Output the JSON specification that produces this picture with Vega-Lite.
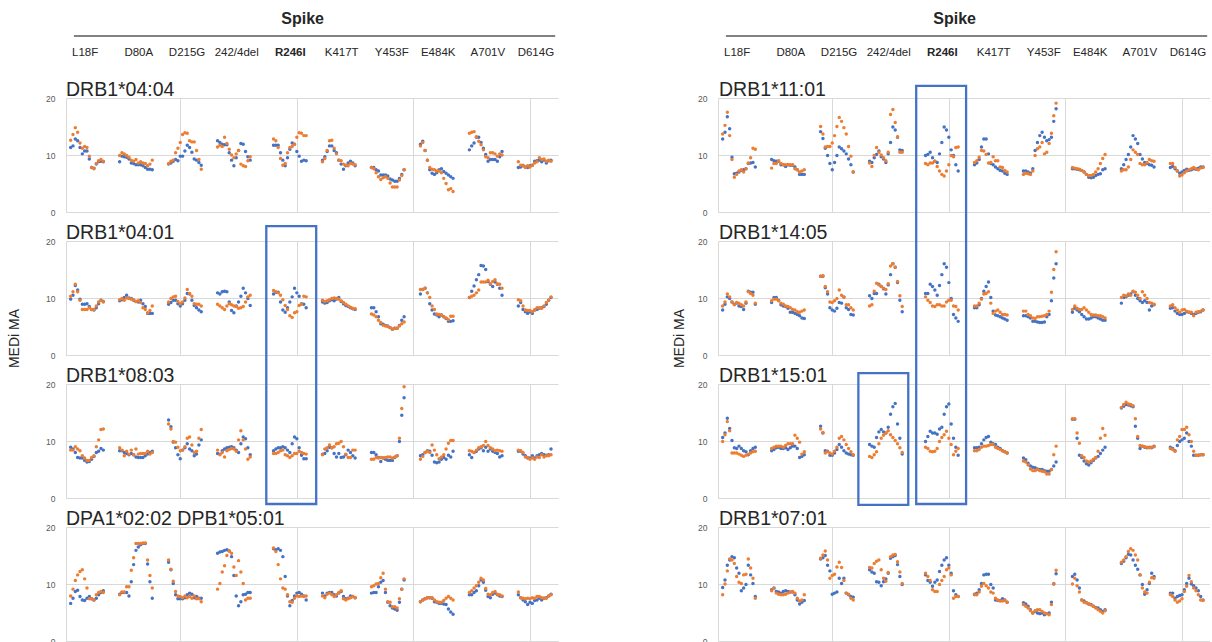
{
"$schema":"https://vega.github.io/schema/vega-lite/v6.json",
"background":"white",
"padding":{"left":7,"top":0,"right":0,"bottom":0},
"config":{"view":{"stroke":null},"font":"Liberation Sans",
"axisX":{"labels":false,"ticks":false,"tickSize":0,"grid":true,"gridColor":"#d9d9d9","domainColor":"#d9d9d9"},
"axisY":{"domain":false,"ticks":false,"tickSize":0,"labelPadding":11,"labelFontSize":8.5,"labelColor":"#595959","grid":true,"gridColor":"#d9d9d9"}},
"datasets":{
"L1":[{"x":3,"s1":11.3,"s2":12.6},{"x":4,"s1":11.6,"s2":13.6},{"x":5,"s1":12.8,"s2":14.8},{"x":6,"s1":12.5,"s2":14},{"x":7,"s1":11.3,"s2":12.1},{"x":8,"s1":10.2,"s2":11.2},{"x":9,"s1":10.7,"s2":11.5},{"x":10,"s1":10.7,"s2":11.3},{"x":11,"s1":9.3,"s2":9.8},{"x":12,"s1":7.8,"s2":7.8},{"x":13,"s1":7.7,"s2":7.6},{"x":14,"s1":8.4,"s2":8.5},{"x":15,"s1":8.8,"s2":9},{"x":16,"s1":8.9,"s2":9.2},{"x":17,"s1":8.8,"s2":8.9},
{"x":24,"s1":8.8,"s2":9.9},{"x":25,"s1":9.8,"s2":10.4},{"x":26,"s1":9.7,"s2":10.2},{"x":27,"s1":9.6,"s2":9.9},{"x":28,"s1":9.3,"s2":9.6},{"x":29,"s1":8.6,"s2":9.1},{"x":30,"s1":8.5,"s2":8.9},{"x":31,"s1":8.3,"s2":9.2},{"x":32,"s1":8.3,"s2":8.6},{"x":33,"s1":8.3,"s2":8.8},{"x":34,"s1":8.1,"s2":8.6},{"x":35,"s1":7.8,"s2":8.5},{"x":36,"s1":7.5,"s2":8.1},{"x":37,"s1":7.5,"s2":8.4},{"x":38,"s1":7.4,"s2":9.1},
{"x":45,"s1":8.4,"s2":8.5},{"x":46,"s1":8.6,"s2":8.9},{"x":47,"s1":8.9,"s2":9.1},{"x":48,"s1":9.2,"s2":10.4},{"x":49,"s1":9,"s2":11.2},{"x":50,"s1":9.8,"s2":12.2},{"x":51,"s1":9.8,"s2":13.6},{"x":52,"s1":10.7,"s2":13.9},{"x":53,"s1":11.7,"s2":13.8},{"x":54,"s1":11.3,"s2":12.5},{"x":55,"s1":10.5,"s2":12.3},{"x":56,"s1":9.3,"s2":12.3},{"x":57,"s1":9.1,"s2":10.8},{"x":58,"s1":8.7,"s2":9.2},{"x":59,"s1":8.2,"s2":7.5},
{"x":66,"s1":12.5,"s2":11.4},{"x":67,"s1":12.2,"s2":11.7},{"x":68,"s1":11.9,"s2":11.5},{"x":69,"s1":11.8,"s2":13.1},{"x":70,"s1":11.8,"s2":12},{"x":71,"s1":10.4,"s2":11},{"x":72,"s1":9.1,"s2":10},{"x":73,"s1":8.1,"s2":9.5},{"x":74,"s1":9.5,"s2":10.2},{"x":75,"s1":10.8,"s2":10.8},{"x":76,"s1":12,"s2":8.4},{"x":77,"s1":11.9,"s2":8.1},{"x":78,"s1":10.6,"s2":8},{"x":79,"s1":9.7,"s2":9},{"x":80,"s1":9.1,"s2":9.7},
{"x":90,"s1":11.7,"s2":12.8},{"x":91,"s1":11.7,"s2":12.5},{"x":92,"s1":11.7,"s2":11.3},{"x":93,"s1":10.4,"s2":9.4},{"x":94,"s1":9.1,"s2":8.2},{"x":95,"s1":8.1,"s2":8.5},{"x":96,"s1":9.5,"s2":10.4},{"x":97,"s1":11,"s2":11.3},{"x":98,"s1":12.1,"s2":11.5},{"x":99,"s1":11.9,"s2":11.9},{"x":100,"s1":10.6,"s2":13.1},{"x":101,"s1":9.8,"s2":13.9},{"x":102,"s1":8.9,"s2":13.8},{"x":103,"s1":9.1,"s2":13.4},{"x":104,"s1":9,"s2":13.4},
{"x":111,"s1":9.1,"s2":8.8},{"x":112,"s1":9.7,"s2":9.4},{"x":113,"s1":10.6,"s2":10.8},{"x":114,"s1":11.6,"s2":12.5},{"x":115,"s1":11.6,"s2":12.6},{"x":116,"s1":10.8,"s2":11.2},{"x":117,"s1":10.4,"s2":10.2},{"x":118,"s1":9.1,"s2":9.1},{"x":119,"s1":8.4,"s2":9},{"x":120,"s1":7.5,"s2":8.4},{"x":121,"s1":8.1,"s2":8.2},{"x":122,"s1":8.6,"s2":8.1},{"x":123,"s1":8.9,"s2":8.5},{"x":124,"s1":8.6,"s2":8.4},{"x":125,"s1":8.1,"s2":8.3},
{"x":132,"s1":7.8,"s2":7.8},{"x":133,"s1":7.8,"s2":7.6},{"x":134,"s1":7.4,"s2":6.9},{"x":135,"s1":7.2,"s2":6.2},{"x":136,"s1":6.5,"s2":5.7},{"x":137,"s1":6.5,"s2":6},{"x":138,"s1":6.5,"s2":6.2},{"x":139,"s1":6.3,"s2":5.9},{"x":140,"s1":5.8,"s2":5.1},{"x":141,"s1":5.6,"s2":4.4},{"x":142,"s1":5.4,"s2":4.4},{"x":143,"s1":5.4,"s2":4.4},{"x":144,"s1":5.9,"s2":5.6},{"x":145,"s1":6.6,"s2":6.4},{"x":146,"s1":7.4,"s2":7.4},
{"x":153,"s1":11.9,"s2":11.6},{"x":154,"s1":12.4,"s2":12.2},{"x":155,"s1":10.8,"s2":10.8},{"x":156,"s1":9.1,"s2":9.1},{"x":157,"s1":7.4,"s2":7.8},{"x":158,"s1":6.8,"s2":7.5},{"x":159,"s1":6.6,"s2":7.4},{"x":160,"s1":6.9,"s2":7.2},{"x":161,"s1":7.4,"s2":7.2},{"x":162,"s1":7.6,"s2":6.9},{"x":163,"s1":7.1,"s2":5.9},{"x":164,"s1":6.8,"s2":5},{"x":165,"s1":6.5,"s2":3.9},{"x":166,"s1":6.2,"s2":4.1},{"x":167,"s1":5.9,"s2":3.6},
{"x":174,"s1":10.9,"s2":13.8},{"x":175,"s1":11.6,"s2":14},{"x":176,"s1":12.1,"s2":14.1},{"x":177,"s1":13.1,"s2":13.2},{"x":178,"s1":13.1,"s2":12.4},{"x":179,"s1":12.2,"s2":11.8},{"x":180,"s1":11.2,"s2":10.9},{"x":181,"s1":10.1,"s2":9.7},{"x":182,"s1":8.9,"s2":9.5},{"x":183,"s1":9.2,"s2":10.4},{"x":184,"s1":9.2,"s2":10.4},{"x":185,"s1":9.2,"s2":10.2},{"x":186,"s1":8.9,"s2":9.8},{"x":187,"s1":9.7,"s2":10.2},{"x":188,"s1":10.6,"s2":10},
{"x":195,"s1":7.8,"s2":8.8},{"x":196,"s1":7.9,"s2":8.2},{"x":197,"s1":8.1,"s2":8.2},{"x":198,"s1":7.9,"s2":7.8},{"x":199,"s1":7.8,"s2":8.1},{"x":200,"s1":8.1,"s2":7.9},{"x":201,"s1":8.2,"s2":8.2},{"x":202,"s1":8.9,"s2":8.6},{"x":203,"s1":9,"s2":8.8},{"x":204,"s1":9.1,"s2":9.5},{"x":205,"s1":8.8,"s2":9.2},{"x":206,"s1":9.1,"s2":9.3},{"x":207,"s1":8.6,"s2":8.9},{"x":208,"s1":9,"s2":9.1},{"x":209,"s1":9.1,"s2":8.9}],
"L2":[{"x":3,"s1":9.8,"s2":10.3},{"x":4,"s1":10.5,"s2":11.1},{"x":5,"s1":12.2,"s2":12.4},{"x":6,"s1":11.4,"s2":11.1},{"x":7,"s1":9.8,"s2":9.6},{"x":8,"s1":8.9,"s2":8},{"x":9,"s1":8.9,"s2":8},{"x":10,"s1":9,"s2":8},{"x":11,"s1":8.5,"s2":8.3},{"x":12,"s1":8,"s2":8},{"x":13,"s1":7.9,"s2":8},{"x":14,"s1":8.3,"s2":8.6},{"x":15,"s1":9,"s2":9.3},{"x":16,"s1":9.6,"s2":9.6},{"x":17,"s1":9.4,"s2":9.3},
{"x":24,"s1":9.5,"s2":9.7},{"x":25,"s1":9.7,"s2":9.9},{"x":26,"s1":10.1,"s2":9.6},{"x":27,"s1":10.5,"s2":10},{"x":28,"s1":10,"s2":9.9},{"x":29,"s1":9.9,"s2":9.8},{"x":30,"s1":9.6,"s2":9.7},{"x":31,"s1":9.4,"s2":9.4},{"x":32,"s1":9.3,"s2":9.5},{"x":33,"s1":9.6,"s2":9.2},{"x":34,"s1":9,"s2":8.3},{"x":35,"s1":8.5,"s2":8},{"x":36,"s1":7.3,"s2":7.4},{"x":37,"s1":7.3,"s2":7.8},{"x":38,"s1":7.3,"s2":8.6},
{"x":45,"s1":8.9,"s2":9.3},{"x":46,"s1":9.2,"s2":9.9},{"x":47,"s1":9.6,"s2":10.2},{"x":48,"s1":9.6,"s2":10.3},{"x":49,"s1":9,"s2":9.4},{"x":50,"s1":8.6,"s2":9},{"x":51,"s1":9,"s2":9.3},{"x":52,"s1":9.6,"s2":10},{"x":53,"s1":10.8,"s2":11.5},{"x":54,"s1":10.7,"s2":10.8},{"x":55,"s1":9.6,"s2":10.3},{"x":56,"s1":8.7,"s2":9},{"x":57,"s1":8.3,"s2":8.9},{"x":58,"s1":7.9,"s2":8.9},{"x":59,"s1":7.6,"s2":8.6},
{"x":66,"s1":10.9,"s2":8.9},{"x":67,"s1":10.7,"s2":8.6},{"x":68,"s1":11.1,"s2":8.3},{"x":69,"s1":11.2,"s2":8},{"x":70,"s1":11.1,"s2":8.6},{"x":71,"s1":9.3,"s2":9},{"x":72,"s1":7.8,"s2":8.8},{"x":73,"s1":7.4,"s2":8.6},{"x":74,"s1":8.6,"s2":8.5},{"x":75,"s1":9.3,"s2":8.2},{"x":76,"s1":10.3,"s2":8.3},{"x":77,"s1":11.7,"s2":8.5},{"x":78,"s1":10.9,"s2":9.3},{"x":79,"s1":9.9,"s2":10.2},{"x":80,"s1":8.7,"s2":10.5},
{"x":90,"s1":10.7,"s2":11.3},{"x":91,"s1":11,"s2":11.1},{"x":92,"s1":11,"s2":10.9},{"x":93,"s1":9.3,"s2":10.5},{"x":94,"s1":7.9,"s2":9.7},{"x":95,"s1":7.5,"s2":8.7},{"x":96,"s1":8.3,"s2":8},{"x":97,"s1":9.3,"s2":6.9},{"x":98,"s1":10.2,"s2":6.6},{"x":99,"s1":11.7,"s2":7.4},{"x":100,"s1":10.9,"s2":7.6},{"x":101,"s1":10.3,"s2":8.7},{"x":102,"s1":9,"s2":8.9},{"x":103,"s1":8.9,"s2":10.3},{"x":104,"s1":8.3,"s2":10.2},
{"x":111,"s1":9.3,"s2":9.6},{"x":112,"s1":9.1,"s2":9.4},{"x":113,"s1":9.2,"s2":9.5},{"x":114,"s1":9.5,"s2":9.7},{"x":115,"s1":9.7,"s2":9.9},{"x":116,"s1":9.5,"s2":10},{"x":117,"s1":9.8,"s2":9.9},{"x":118,"s1":10.1,"s2":9.8},{"x":119,"s1":9.4,"s2":9.5},{"x":120,"s1":9,"s2":9.2},{"x":121,"s1":8.7,"s2":8.9},{"x":122,"s1":8.5,"s2":8.6},{"x":123,"s1":8.3,"s2":8.4},{"x":124,"s1":8.1,"s2":8.2},{"x":125,"s1":8,"s2":8.1},
{"x":132,"s1":8.3,"s2":7.2},{"x":133,"s1":8.3,"s2":7},{"x":134,"s1":7.6,"s2":6.7},{"x":135,"s1":6.7,"s2":6.1},{"x":136,"s1":5.5,"s2":5.7},{"x":137,"s1":5.4,"s2":5.2},{"x":138,"s1":5.2,"s2":5.1},{"x":139,"s1":5.1,"s2":5},{"x":140,"s1":4.8,"s2":4.8},{"x":141,"s1":4.5,"s2":4.5},{"x":142,"s1":4.7,"s2":4.7},{"x":143,"s1":4.7,"s2":4.7},{"x":144,"s1":5.2,"s2":5.1},{"x":145,"s1":6.1,"s2":5.5},{"x":146,"s1":6.7,"s2":5.8},
{"x":153,"s1":10.7,"s2":11.5},{"x":154,"s1":11.5,"s2":11.5},{"x":155,"s1":11.7,"s2":11.7},{"x":156,"s1":10.9,"s2":10.9},{"x":157,"s1":9,"s2":10.1},{"x":158,"s1":7.9,"s2":8.6},{"x":159,"s1":7.2,"s2":8},{"x":160,"s1":7,"s2":7.2},{"x":161,"s1":6.7,"s2":7.1},{"x":162,"s1":7,"s2":7},{"x":163,"s1":6.7,"s2":6.7},{"x":164,"s1":6.4,"s2":6.5},{"x":165,"s1":5.9,"s2":6.2},{"x":166,"s1":5.9,"s2":6.8},{"x":167,"s1":6,"s2":6.8},
{"x":174,"s1":10.1,"s2":10.1},{"x":175,"s1":11.2,"s2":10.3},{"x":176,"s1":12.1,"s2":10.5},{"x":177,"s1":13.2,"s2":10.9},{"x":178,"s1":14.1,"s2":11.4},{"x":179,"s1":15.7,"s2":12.8},{"x":180,"s1":15.6,"s2":12.8},{"x":181,"s1":15,"s2":12.8},{"x":182,"s1":12.9,"s2":13.1},{"x":183,"s1":12.4,"s2":12.5},{"x":184,"s1":12,"s2":12.9},{"x":185,"s1":12.8,"s2":13.2},{"x":186,"s1":12.4,"s2":12.5},{"x":187,"s1":11.7,"s2":12.4},{"x":188,"s1":10.5,"s2":11.7},
{"x":195,"s1":8.6,"s2":9.7},{"x":196,"s1":9.2,"s2":9.5},{"x":197,"s1":8,"s2":8.6},{"x":198,"s1":7.6,"s2":7.9},{"x":199,"s1":7.3,"s2":7.8},{"x":200,"s1":7.6,"s2":7.8},{"x":201,"s1":7.3,"s2":7.6},{"x":202,"s1":7.9,"s2":7.9},{"x":203,"s1":8,"s2":8.3},{"x":204,"s1":8.2,"s2":8.3},{"x":205,"s1":8.3,"s2":8.2},{"x":206,"s1":8.5,"s2":8.6},{"x":207,"s1":8.9,"s2":9.2},{"x":208,"s1":9.6,"s2":9.6},{"x":209,"s1":10.1,"s2":10.2}],
"L3":[{"x":3,"s1":8.9,"s2":8.4},{"x":4,"s1":8.6,"s2":8.4},{"x":5,"s1":8,"s2":9},{"x":6,"s1":7.1,"s2":8.6},{"x":7,"s1":7,"s2":8.3},{"x":8,"s1":7,"s2":7.4},{"x":9,"s1":6.6,"s2":7},{"x":10,"s1":6.3,"s2":6.6},{"x":11,"s1":6.4,"s2":6.6},{"x":12,"s1":6.8,"s2":7.1},{"x":13,"s1":7.3,"s2":7.4},{"x":14,"s1":8,"s2":9},{"x":15,"s1":8.2,"s2":10.2},{"x":16,"s1":8.7,"s2":12},{"x":17,"s1":8.4,"s2":12.1},
{"x":24,"s1":8.3,"s2":8.8},{"x":25,"s1":8.3,"s2":8.4},{"x":26,"s1":8,"s2":7.4},{"x":27,"s1":7.8,"s2":8.2},{"x":28,"s1":7.6,"s2":7.7},{"x":29,"s1":7.8,"s2":8.4},{"x":30,"s1":7.6,"s2":7.6},{"x":31,"s1":7.2,"s2":8.6},{"x":32,"s1":7.1,"s2":7.7},{"x":33,"s1":7.1,"s2":7.8},{"x":34,"s1":7.1,"s2":7.8},{"x":35,"s1":7.4,"s2":7.8},{"x":36,"s1":7.7,"s2":8.2},{"x":37,"s1":8,"s2":7.7},{"x":38,"s1":8.2,"s2":8},
{"x":45,"s1":13.7,"s2":13},{"x":46,"s1":12.5,"s2":12.1},{"x":47,"s1":9.8,"s2":9.9},{"x":48,"s1":8.8,"s2":9.8},{"x":49,"s1":7.6,"s2":8.9},{"x":50,"s1":6.9,"s2":8.3},{"x":51,"s1":8.4,"s2":8.4},{"x":52,"s1":8.8,"s2":9},{"x":53,"s1":9.5,"s2":10.5},{"x":54,"s1":8.6,"s2":10.7},{"x":55,"s1":8.3,"s2":9.3},{"x":56,"s1":7.4,"s2":8},{"x":57,"s1":7.7,"s2":8.2},{"x":58,"s1":9.3,"s2":10.5},{"x":59,"s1":10.2,"s2":12},
{"x":66,"s1":7.8,"s2":8.4},{"x":67,"s1":7.7,"s2":7.6},{"x":68,"s1":8.3,"s2":8},{"x":69,"s1":8.6,"s2":7.2},{"x":70,"s1":8.8,"s2":8.3},{"x":71,"s1":8.9,"s2":8.5},{"x":72,"s1":9,"s2":8.7},{"x":73,"s1":8.8,"s2":8.6},{"x":74,"s1":8.4,"s2":8.2},{"x":75,"s1":8,"s2":10.2},{"x":76,"s1":9.5,"s2":11.8},{"x":77,"s1":10.7,"s2":10.2},{"x":78,"s1":10.4,"s2":8.6},{"x":79,"s1":8.8,"s2":6.8},{"x":80,"s1":7.6,"s2":7.2},
{"x":90,"s1":8.3,"s2":7.8},{"x":91,"s1":8.6,"s2":7.8},{"x":92,"s1":8.8,"s2":8},{"x":93,"s1":8.8,"s2":8.3},{"x":94,"s1":9,"s2":8.4},{"x":95,"s1":8.8,"s2":7.6},{"x":96,"s1":8.4,"s2":7.4},{"x":97,"s1":8,"s2":7.1},{"x":98,"s1":9.5,"s2":7.4},{"x":99,"s1":10.7,"s2":7.8},{"x":100,"s1":10.4,"s2":7.8},{"x":101,"s1":8.8,"s2":8.2},{"x":102,"s1":7.5,"s2":8},{"x":103,"s1":6.9,"s2":7.8},{"x":104,"s1":6.9,"s2":7.7},
{"x":111,"s1":7.7,"s2":7.6},{"x":112,"s1":7.8,"s2":8.6},{"x":113,"s1":8.3,"s2":8.8},{"x":114,"s1":8.9,"s2":9.3},{"x":115,"s1":8.8,"s2":8.8},{"x":116,"s1":7.8,"s2":9},{"x":117,"s1":7.2,"s2":9.5},{"x":118,"s1":7.8,"s2":9.6},{"x":119,"s1":7.1,"s2":9.9},{"x":120,"s1":7.2,"s2":9},{"x":121,"s1":7.6,"s2":7.7},{"x":122,"s1":8.4,"s2":7.1},{"x":123,"s1":8,"s2":7.1},{"x":124,"s1":7.4,"s2":8.4},{"x":125,"s1":7,"s2":8.4},
{"x":132,"s1":8,"s2":6.8},{"x":133,"s1":8,"s2":6.8},{"x":134,"s1":7.6,"s2":7.1},{"x":135,"s1":7.1,"s2":7},{"x":136,"s1":6.4,"s2":7.1},{"x":137,"s1":7,"s2":7},{"x":138,"s1":6.8,"s2":7.1},{"x":139,"s1":6.6,"s2":7.2},{"x":140,"s1":6.6,"s2":7.2},{"x":141,"s1":6.6,"s2":7},{"x":142,"s1":7.1,"s2":7.2},{"x":143,"s1":7.4,"s2":7.4},{"x":144,"s1":9.9,"s2":10.5},{"x":145,"s1":14.5,"s2":15.7},{"x":146,"s1":17.6,"s2":19.5},
{"x":153,"s1":7.4,"s2":6.8},{"x":154,"s1":7.6,"s2":7.3},{"x":155,"s1":8,"s2":8},{"x":156,"s1":8.3,"s2":8.2},{"x":157,"s1":8.2,"s2":8},{"x":158,"s1":7.5,"s2":9.3},{"x":159,"s1":6.3,"s2":8.4},{"x":160,"s1":6.2,"s2":7.6},{"x":161,"s1":6.3,"s2":6.9},{"x":162,"s1":6.8,"s2":7.2},{"x":163,"s1":7.1,"s2":7.6},{"x":164,"s1":6.8,"s2":8.6},{"x":165,"s1":7.5,"s2":9.6},{"x":166,"s1":7.2,"s2":10.1},{"x":167,"s1":8.2,"s2":10.1},
{"x":174,"s1":7.6,"s2":8.3},{"x":175,"s1":7.1,"s2":8.2},{"x":176,"s1":8,"s2":8},{"x":177,"s1":8.2,"s2":8.4},{"x":178,"s1":8.6,"s2":8.8},{"x":179,"s1":8.8,"s2":9},{"x":180,"s1":8.3,"s2":9.2},{"x":181,"s1":8.9,"s2":9.9},{"x":182,"s1":8.2,"s2":9.2},{"x":183,"s1":8.6,"s2":8.8},{"x":184,"s1":8.2,"s2":8.6},{"x":185,"s1":8,"s2":8.3},{"x":186,"s1":7.8,"s2":8.4},{"x":187,"s1":7.2,"s2":8.3},{"x":188,"s1":7.4,"s2":8.2},
{"x":195,"s1":8.2,"s2":8.4},{"x":196,"s1":8.2,"s2":8.3},{"x":197,"s1":7.7,"s2":8},{"x":198,"s1":7.4,"s2":7.2},{"x":199,"s1":7,"s2":7.1},{"x":200,"s1":7,"s2":6.8},{"x":201,"s1":7.4,"s2":7},{"x":202,"s1":7,"s2":6.8},{"x":203,"s1":7.4,"s2":7.2},{"x":204,"s1":7.6,"s2":7.1},{"x":205,"s1":7.8,"s2":7.6},{"x":206,"s1":7.6,"s2":7.2},{"x":207,"s1":7.5,"s2":7.4},{"x":208,"s1":7.6,"s2":7.4},{"x":209,"s1":8.6,"s2":7.6}],
"L4":[{"x":3,"s1":6.6,"s2":7.9},{"x":4,"s1":7.5,"s2":9.1},{"x":5,"s1":8.7,"s2":10.6},{"x":6,"s1":8.9,"s2":11.6},{"x":7,"s1":7.8,"s2":12.2},{"x":8,"s1":7.2,"s2":12.5},{"x":9,"s1":7.1,"s2":10.9},{"x":10,"s1":7.5,"s2":9.3},{"x":11,"s1":7.8,"s2":7.4},{"x":12,"s1":7.4,"s2":7.4},{"x":13,"s1":7.2,"s2":7.2},{"x":14,"s1":7.5,"s2":8.1},{"x":15,"s1":8.1,"s2":8.5},{"x":16,"s1":8.5,"s2":8.7},{"x":17,"s1":8.8,"s2":8.5},
{"x":24,"s1":8.2,"s2":8.1},{"x":25,"s1":8.5,"s2":8.6},{"x":26,"s1":8.5,"s2":8.6},{"x":27,"s1":8.5,"s2":9.5},{"x":28,"s1":7.9,"s2":9.5},{"x":29,"s1":10.4,"s2":12.4},{"x":30,"s1":13.4,"s2":14.6},{"x":31,"s1":15.9,"s2":17.1},{"x":32,"s1":16.5,"s2":17.1},{"x":33,"s1":16.9,"s2":17.1},{"x":34,"s1":17.1,"s2":17.2},{"x":35,"s1":17.1,"s2":17.2},{"x":36,"s1":13.5,"s2":14.2},{"x":37,"s1":10.4,"s2":11.5},{"x":38,"s1":7.5,"s2":9.3},
{"x":45,"s1":13.8,"s2":14.2},{"x":46,"s1":12.5,"s2":12.6},{"x":47,"s1":10.1,"s2":10.5},{"x":48,"s1":8.1,"s2":8.7},{"x":49,"s1":7.4,"s2":7.9},{"x":50,"s1":7.4,"s2":7.8},{"x":51,"s1":7.4,"s2":7.6},{"x":52,"s1":7.6,"s2":7.9},{"x":53,"s1":8.1,"s2":7.6},{"x":54,"s1":8.4,"s2":7.8},{"x":55,"s1":8.2,"s2":7.5},{"x":56,"s1":7.6,"s2":7.9},{"x":57,"s1":7.8,"s2":7.4},{"x":58,"s1":7.5,"s2":7.4},{"x":59,"s1":7.5,"s2":6.9},
{"x":66,"s1":15.4,"s2":9.1},{"x":67,"s1":15.6,"s2":10.1},{"x":68,"s1":15.7,"s2":12.1},{"x":69,"s1":15.9,"s2":13.2},{"x":70,"s1":16,"s2":15},{"x":71,"s1":15.8,"s2":15.8},{"x":72,"s1":14.8,"s2":15.4},{"x":73,"s1":11.5,"s2":13},{"x":74,"s1":7.9,"s2":11.5},{"x":75,"s1":6.2,"s2":14.1},{"x":76,"s1":6.9,"s2":12.1},{"x":77,"s1":8.1,"s2":10.1},{"x":78,"s1":8.2,"s2":7.2},{"x":79,"s1":8.5,"s2":7.5},{"x":80,"s1":8.5,"s2":7.5},
{"x":90,"s1":16.2,"s2":16.3},{"x":91,"s1":16,"s2":15.7},{"x":92,"s1":16.2,"s2":13.4},{"x":93,"s1":15.9,"s2":10.9},{"x":94,"s1":14.8,"s2":9.3},{"x":95,"s1":11.3,"s2":9.1},{"x":96,"s1":7.9,"s2":8.1},{"x":97,"s1":6.2,"s2":6.9},{"x":98,"s1":7.1,"s2":6.8},{"x":99,"s1":7.9,"s2":7.5},{"x":100,"s1":8.4,"s2":7.9},{"x":101,"s1":8.5,"s2":7.8},{"x":102,"s1":8.2,"s2":7.9},{"x":103,"s1":7.9,"s2":7.8},{"x":104,"s1":7.2,"s2":7.9},
{"x":111,"s1":8.4,"s2":7.9},{"x":112,"s1":7.9,"s2":7.6},{"x":113,"s1":8.4,"s2":8.2},{"x":114,"s1":8.5,"s2":8.4},{"x":115,"s1":8.5,"s2":8.1},{"x":116,"s1":8.1,"s2":7.8},{"x":117,"s1":7.9,"s2":8.1},{"x":118,"s1":8.4,"s2":8.5},{"x":119,"s1":8.7,"s2":8.8},{"x":120,"s1":7.8,"s2":7.4},{"x":121,"s1":7.4,"s2":7.2},{"x":122,"s1":7.5,"s2":7.4},{"x":123,"s1":7.9,"s2":7.6},{"x":124,"s1":7.8,"s2":7.8},{"x":125,"s1":7.6,"s2":7.6},
{"x":132,"s1":8.4,"s2":9.5},{"x":133,"s1":8.5,"s2":9.7},{"x":134,"s1":8.5,"s2":10},{"x":135,"s1":9.5,"s2":10.1},{"x":136,"s1":10.3,"s2":11.1},{"x":137,"s1":10.6,"s2":11.9},{"x":138,"s1":8.5,"s2":9.1},{"x":139,"s1":6.8,"s2":6.9},{"x":140,"s1":6.2,"s2":6.8},{"x":141,"s1":5.8,"s2":6},{"x":142,"s1":5.6,"s2":6},{"x":143,"s1":5.4,"s2":5.8},{"x":144,"s1":6.8,"s2":7.4},{"x":145,"s1":9.1,"s2":9.1},{"x":146,"s1":10.7,"s2":10.9},
{"x":153,"s1":6.9,"s2":6.9},{"x":154,"s1":7.2,"s2":7.2},{"x":155,"s1":7.4,"s2":7.4},{"x":156,"s1":7.6,"s2":7.6},{"x":157,"s1":7.6,"s2":7.6},{"x":158,"s1":7.5,"s2":7.6},{"x":159,"s1":6.9,"s2":7.2},{"x":160,"s1":6.8,"s2":6.9},{"x":161,"s1":6.6,"s2":6.8},{"x":162,"s1":6.6,"s2":6.8},{"x":163,"s1":6.5,"s2":7.1},{"x":164,"s1":6.4,"s2":7.5},{"x":165,"s1":5.6,"s2":7.8},{"x":166,"s1":5.1,"s2":7.5},{"x":167,"s1":4.7,"s2":7.2},
{"x":174,"s1":8.1,"s2":8.5},{"x":175,"s1":8.1,"s2":8.8},{"x":176,"s1":8.5,"s2":9.3},{"x":177,"s1":8.8,"s2":9.7},{"x":178,"s1":9.7,"s2":10.3},{"x":179,"s1":10.7,"s2":11},{"x":180,"s1":10.3,"s2":10.7},{"x":181,"s1":8.9,"s2":9.2},{"x":182,"s1":7.8,"s2":8.2},{"x":183,"s1":7.6,"s2":8.1},{"x":184,"s1":8.2,"s2":8.5},{"x":185,"s1":8.4,"s2":8.7},{"x":186,"s1":8.1,"s2":8.2},{"x":187,"s1":7.9,"s2":8.1},{"x":188,"s1":7.8,"s2":7.9},
{"x":195,"s1":8.1,"s2":8.6},{"x":196,"s1":7.6,"s2":7.6},{"x":197,"s1":7.2,"s2":7.5},{"x":198,"s1":6.9,"s2":7.4},{"x":199,"s1":6.4,"s2":7.5},{"x":200,"s1":6.8,"s2":7.4},{"x":201,"s1":6.6,"s2":7.6},{"x":202,"s1":7.1,"s2":7.5},{"x":203,"s1":7.2,"s2":7.8},{"x":204,"s1":7.5,"s2":7.8},{"x":205,"s1":7.2,"s2":7.6},{"x":206,"s1":7.5,"s2":7.5},{"x":207,"s1":7.6,"s2":7.5},{"x":208,"s1":7.9,"s2":7.9},{"x":209,"s1":8.2,"s2":8.1}],
"R1":[{"x":3,"s1":12.8,"s2":13.7},{"x":4,"s1":14,"s2":15.2},{"x":5,"s1":16.7,"s2":17.5},{"x":6,"s1":14.6,"s2":13.4},{"x":7,"s1":9.6,"s2":9.2},{"x":8,"s1":6.7,"s2":6.1},{"x":9,"s1":6.8,"s2":6.6},{"x":10,"s1":7,"s2":7.2},{"x":11,"s1":7.3,"s2":7.4},{"x":12,"s1":7.4,"s2":7},{"x":13,"s1":7.6,"s2":7.6},{"x":14,"s1":8.5,"s2":8.6},{"x":15,"s1":8.6,"s2":9.5},{"x":16,"s1":8.7,"s2":11.2},{"x":17,"s1":7.9,"s2":11},
{"x":24,"s1":9.2,"s2":7.7},{"x":25,"s1":9,"s2":8.5},{"x":26,"s1":8.9,"s2":8.5},{"x":27,"s1":8.9,"s2":9},{"x":28,"s1":8.3,"s2":8.5},{"x":29,"s1":8.3,"s2":8.3},{"x":30,"s1":8,"s2":8.3},{"x":31,"s1":8.3,"s2":8.3},{"x":32,"s1":8.2,"s2":8.3},{"x":33,"s1":8.2,"s2":8.3},{"x":34,"s1":7.9,"s2":7.6},{"x":35,"s1":7.4,"s2":7.4},{"x":36,"s1":6.6,"s2":7},{"x":37,"s1":6.6,"s2":7.2},{"x":38,"s1":6.6,"s2":7.4},
{"x":45,"s1":14.1,"s2":15},{"x":46,"s1":12.9,"s2":13.7},{"x":47,"s1":11.2,"s2":11.4},{"x":48,"s1":9.9,"s2":11.5},{"x":49,"s1":8.5,"s2":11.5},{"x":50,"s1":7.4,"s2":12.1},{"x":51,"s1":8.7,"s2":13.4},{"x":52,"s1":9.9,"s2":15},{"x":53,"s1":11.4,"s2":16.6},{"x":54,"s1":11.1,"s2":15.9},{"x":55,"s1":10.7,"s2":14.8},{"x":56,"s1":10.2,"s2":13.7},{"x":57,"s1":9.3,"s2":11.5},{"x":58,"s1":8.3,"s2":9.8},{"x":59,"s1":7,"s2":7},
{"x":66,"s1":8.9,"s2":8.6},{"x":67,"s1":8.7,"s2":8},{"x":68,"s1":9.5,"s2":9.9},{"x":69,"s1":10.1,"s2":11.3},{"x":70,"s1":10.7,"s2":10.5},{"x":71,"s1":9.7,"s2":10},{"x":72,"s1":9.3,"s2":9.5},{"x":73,"s1":8.7,"s2":9},{"x":74,"s1":10.2,"s2":10.5},{"x":75,"s1":12.2,"s2":17.1},{"x":76,"s1":14.9,"s2":18},{"x":77,"s1":14.4,"s2":15.7},{"x":78,"s1":13.1,"s2":13.2},{"x":79,"s1":10.9,"s2":10.5},{"x":80,"s1":10.8,"s2":10.5},
{"x":90,"s1":9.9,"s2":8.5},{"x":91,"s1":10.1,"s2":8.3},{"x":92,"s1":10.5,"s2":8.6},{"x":93,"s1":9.5,"s2":8.6},{"x":94,"s1":8.9,"s2":8.9},{"x":95,"s1":8.7,"s2":8},{"x":96,"s1":10.2,"s2":7.2},{"x":97,"s1":12.2,"s2":6.6},{"x":98,"s1":14.9,"s2":6.3},{"x":99,"s1":14.4,"s2":7.2},{"x":100,"s1":13.1,"s2":8.3},{"x":101,"s1":10.9,"s2":9.9},{"x":102,"s1":9.9,"s2":9.7},{"x":103,"s1":8.3,"s2":11.3},{"x":104,"s1":7.2,"s2":11.4},
{"x":111,"s1":8.3,"s2":8.7},{"x":112,"s1":8.6,"s2":9},{"x":113,"s1":9.2,"s2":9.6},{"x":114,"s1":11.4,"s2":10.8},{"x":115,"s1":12.8,"s2":10.7},{"x":116,"s1":12.8,"s2":10.1},{"x":117,"s1":10.2,"s2":8.6},{"x":118,"s1":8.5,"s2":8.7},{"x":119,"s1":8.3,"s2":9.7},{"x":120,"s1":7.9,"s2":9},{"x":121,"s1":7.6,"s2":9},{"x":122,"s1":7.3,"s2":7.9},{"x":123,"s1":7.2,"s2":7.8},{"x":124,"s1":6.8,"s2":7.3},{"x":125,"s1":6.6,"s2":7},
{"x":132,"s1":7.2,"s2":6.6},{"x":133,"s1":7.2,"s2":6.8},{"x":134,"s1":7,"s2":6.7},{"x":135,"s1":6.8,"s2":6.6},{"x":136,"s1":7.6,"s2":7.2},{"x":137,"s1":10.8,"s2":9.9},{"x":138,"s1":12.2,"s2":11.1},{"x":139,"s1":13.4,"s2":11.4},{"x":140,"s1":14,"s2":12.2},{"x":141,"s1":13.1,"s2":10.2},{"x":142,"s1":12.5,"s2":10.5},{"x":143,"s1":12.7,"s2":12},{"x":144,"s1":13.1,"s2":13.8},{"x":145,"s1":15.9,"s2":16.9},{"x":146,"s1":18.1,"s2":19.1},
{"x":153,"s1":7.6,"s2":7.8},{"x":154,"s1":7.6,"s2":7.7},{"x":155,"s1":7.5,"s2":7.6},{"x":156,"s1":7.4,"s2":7.5},{"x":157,"s1":7.3,"s2":7.3},{"x":158,"s1":7,"s2":7},{"x":159,"s1":6.6,"s2":6.6},{"x":160,"s1":6.1,"s2":6.4},{"x":161,"s1":6,"s2":6.4},{"x":162,"s1":6.1,"s2":6.6},{"x":163,"s1":6.4,"s2":7},{"x":164,"s1":6.6,"s2":7.6},{"x":165,"s1":6.7,"s2":8.5},{"x":166,"s1":7.4,"s2":9.4},{"x":167,"s1":7.6,"s2":10.1},
{"x":174,"s1":7.6,"s2":7.2},{"x":175,"s1":8.3,"s2":7.4},{"x":176,"s1":9.2,"s2":7.4},{"x":177,"s1":10.1,"s2":7.9},{"x":178,"s1":11.4,"s2":9.2},{"x":179,"s1":13.4,"s2":10.9},{"x":180,"s1":12.8,"s2":10.5},{"x":181,"s1":12,"s2":10.1},{"x":182,"s1":10.1,"s2":8.5},{"x":183,"s1":9.3,"s2":8.3},{"x":184,"s1":8.7,"s2":8.3},{"x":185,"s1":8.5,"s2":8.7},{"x":186,"s1":8.3,"s2":9.2},{"x":187,"s1":8.2,"s2":9},{"x":188,"s1":7.9,"s2":8.9},
{"x":195,"s1":7.8,"s2":8.5},{"x":196,"s1":8,"s2":8.5},{"x":197,"s1":7.6,"s2":7.8},{"x":198,"s1":7.2,"s2":7.2},{"x":199,"s1":6.8,"s2":6.3},{"x":200,"s1":7,"s2":6.5},{"x":201,"s1":7.3,"s2":6.9},{"x":202,"s1":7.5,"s2":7.2},{"x":203,"s1":7.3,"s2":7.4},{"x":204,"s1":7.4,"s2":7.6},{"x":205,"s1":7.6,"s2":7.8},{"x":206,"s1":7.5,"s2":7.6},{"x":207,"s1":7.7,"s2":7.4},{"x":208,"s1":7.9,"s2":7.7},{"x":209,"s1":7.9,"s2":7.8}],
"R2":[{"x":3,"s1":7.9,"s2":8.6},{"x":4,"s1":8.9,"s2":9.3},{"x":5,"s1":10.2,"s2":10.7},{"x":6,"s1":9.9,"s2":10.2},{"x":7,"s1":9.3,"s2":9.3},{"x":8,"s1":8.9,"s2":8.8},{"x":9,"s1":9.1,"s2":9.2},{"x":10,"s1":8.6,"s2":9.1},{"x":11,"s1":8.5,"s2":8.8},{"x":12,"s1":8,"s2":8.6},{"x":13,"s1":9.1,"s2":9.3},{"x":14,"s1":11.2,"s2":11.1},{"x":15,"s1":11,"s2":10.8},{"x":16,"s1":11,"s2":10.5},{"x":17,"s1":8.9,"s2":9.1},
{"x":24,"s1":9.2,"s2":9.5},{"x":25,"s1":10.1,"s2":9.8},{"x":26,"s1":10.1,"s2":9.8},{"x":27,"s1":9.6,"s2":9.5},{"x":28,"s1":8.8,"s2":9.1},{"x":29,"s1":8.6,"s2":8.9},{"x":30,"s1":8.5,"s2":8.6},{"x":31,"s1":8.2,"s2":8.5},{"x":32,"s1":7.5,"s2":8.3},{"x":33,"s1":7.5,"s2":8},{"x":34,"s1":7.3,"s2":7.9},{"x":35,"s1":7.1,"s2":7.6},{"x":36,"s1":6.9,"s2":7.5},{"x":37,"s1":6.5,"s2":7.7},{"x":38,"s1":6.4,"s2":7.9},
{"x":45,"s1":13.8,"s2":13.8},{"x":46,"s1":13.8,"s2":13.9},{"x":47,"s1":11.8,"s2":12},{"x":48,"s1":10.7,"s2":11.1},{"x":49,"s1":8.3,"s2":9.3},{"x":50,"s1":7.9,"s2":9.2},{"x":51,"s1":7.7,"s2":9.5},{"x":52,"s1":8.2,"s2":9.9},{"x":53,"s1":9.2,"s2":11.4},{"x":54,"s1":9.1,"s2":10.5},{"x":55,"s1":10.2,"s2":10.1},{"x":56,"s1":8.3,"s2":8.8},{"x":57,"s1":8,"s2":8.8},{"x":58,"s1":7.1,"s2":8.3},{"x":59,"s1":7,"s2":7.9},
{"x":66,"s1":10.4,"s2":8.6},{"x":67,"s1":9.9,"s2":8.8},{"x":68,"s1":10.8,"s2":11.2},{"x":69,"s1":10.8,"s2":12.6},{"x":70,"s1":12.4,"s2":12.3},{"x":71,"s1":12,"s2":12},{"x":72,"s1":11.6,"s2":11.7},{"x":73,"s1":10.7,"s2":11.5},{"x":74,"s1":12.3,"s2":12.5},{"x":75,"s1":14.1,"s2":15.6},{"x":76,"s1":16,"s2":16},{"x":77,"s1":15.4,"s2":15.4},{"x":78,"s1":12.7,"s2":12.9},{"x":79,"s1":9.6,"s2":10.4},{"x":80,"s1":7.6,"s2":8.5},
{"x":90,"s1":10.8,"s2":10.2},{"x":91,"s1":10.8,"s2":9.6},{"x":92,"s1":12.4,"s2":9.2},{"x":93,"s1":12,"s2":8.6},{"x":94,"s1":11.4,"s2":8.5},{"x":95,"s1":10.5,"s2":8.8},{"x":96,"s1":12.2,"s2":8.8},{"x":97,"s1":14.1,"s2":8.6},{"x":98,"s1":16,"s2":8.6},{"x":99,"s1":15.4,"s2":9.3},{"x":100,"s1":12.7,"s2":9.6},{"x":101,"s1":9.9,"s2":9.6},{"x":102,"s1":7.1,"s2":8.6},{"x":103,"s1":6.5,"s2":8.5},{"x":104,"s1":5.9,"s2":7.9},
{"x":111,"s1":8.3,"s2":8.6},{"x":112,"s1":8.3,"s2":8.6},{"x":113,"s1":8.8,"s2":9.1},{"x":114,"s1":9.9,"s2":9.8},{"x":115,"s1":11.2,"s2":10.7},{"x":116,"s1":12,"s2":10.8},{"x":117,"s1":12.8,"s2":11.1},{"x":118,"s1":10.1,"s2":9.1},{"x":119,"s1":7.7,"s2":7.3},{"x":120,"s1":7,"s2":7.7},{"x":121,"s1":6.9,"s2":7.9},{"x":122,"s1":6.7,"s2":7.5},{"x":123,"s1":6.5,"s2":7.1},{"x":124,"s1":6.3,"s2":7.1},{"x":125,"s1":6.1,"s2":7},
{"x":132,"s1":6.9,"s2":7.7},{"x":133,"s1":6.9,"s2":7.7},{"x":134,"s1":6.7,"s2":7.1},{"x":135,"s1":6.5,"s2":6.9},{"x":136,"s1":5.9,"s2":6.5},{"x":137,"s1":5.9,"s2":6.4},{"x":138,"s1":5.8,"s2":6.7},{"x":139,"s1":5.7,"s2":6.7},{"x":140,"s1":5.7,"s2":6.8},{"x":141,"s1":5.8,"s2":6.9},{"x":142,"s1":6.7,"s2":7.1},{"x":143,"s1":7.1,"s2":7.7},{"x":144,"s1":9.5,"s2":11},{"x":145,"s1":13.5,"s2":15},{"x":146,"s1":16,"s2":18.1},
{"x":153,"s1":7.5,"s2":8},{"x":154,"s1":8.2,"s2":8.6},{"x":155,"s1":7.9,"s2":8.2},{"x":156,"s1":7.6,"s2":8},{"x":157,"s1":7.1,"s2":8},{"x":158,"s1":6.7,"s2":8.3},{"x":159,"s1":6.3,"s2":7.9},{"x":160,"s1":6.3,"s2":7.5},{"x":161,"s1":6.5,"s2":7.1},{"x":162,"s1":6.7,"s2":7},{"x":163,"s1":6.7,"s2":7},{"x":164,"s1":6.5,"s2":6.9},{"x":165,"s1":6.3,"s2":6.9},{"x":166,"s1":6.1,"s2":6.7},{"x":167,"s1":6.1,"s2":6.5},
{"x":174,"s1":9.1,"s2":10.1},{"x":175,"s1":10.1,"s2":10.5},{"x":176,"s1":10.2,"s2":10.4},{"x":177,"s1":10.5,"s2":10.7},{"x":178,"s1":10.7,"s2":10.5},{"x":179,"s1":11.1,"s2":11.2},{"x":180,"s1":10.5,"s2":11},{"x":181,"s1":9.9,"s2":10.5},{"x":182,"s1":9.5,"s2":9.9},{"x":183,"s1":9.2,"s2":11.1},{"x":184,"s1":9.5,"s2":10.5},{"x":185,"s1":9.2,"s2":9.9},{"x":186,"s1":7.9,"s2":9.2},{"x":187,"s1":8.6,"s2":9.1},{"x":188,"s1":8.8,"s2":8.9},
{"x":195,"s1":8.2,"s2":8.6},{"x":196,"s1":8.3,"s2":8.8},{"x":197,"s1":7.7,"s2":8.3},{"x":198,"s1":7.3,"s2":7.9},{"x":199,"s1":7.1,"s2":7.5},{"x":200,"s1":7.1,"s2":7.9},{"x":201,"s1":7.3,"s2":8},{"x":202,"s1":7.6,"s2":7.7},{"x":203,"s1":7.5,"s2":7.5},{"x":204,"s1":7.3,"s2":7.5},{"x":205,"s1":7.1,"s2":6.9},{"x":206,"s1":7.3,"s2":7.5},{"x":207,"s1":7.5,"s2":7.6},{"x":208,"s1":7.6,"s2":7.7},{"x":209,"s1":7.9,"s2":7.9}],
"R3":[{"x":3,"s1":10.6,"s2":9.9},{"x":4,"s1":11.4,"s2":11.1},{"x":5,"s1":14,"s2":13.4},{"x":6,"s1":12.2,"s2":11.8},{"x":7,"s1":10.1,"s2":7.9},{"x":8,"s1":8.8,"s2":7.9},{"x":9,"s1":8.7,"s2":7.9},{"x":10,"s1":9.1,"s2":7.7},{"x":11,"s1":8.7,"s2":7.5},{"x":12,"s1":8.3,"s2":7.3},{"x":13,"s1":8.1,"s2":7.5},{"x":14,"s1":7.6,"s2":7.7},{"x":15,"s1":8.3,"s2":7.9},{"x":16,"s1":8.7,"s2":8.1},{"x":17,"s1":8.9,"s2":8.2},
{"x":24,"s1":8.3,"s2":8.7},{"x":25,"s1":8.5,"s2":8.9},{"x":26,"s1":8.8,"s2":9.1},{"x":27,"s1":8.9,"s2":9.1},{"x":28,"s1":8.7,"s2":9.1},{"x":29,"s1":8.7,"s2":8.9},{"x":30,"s1":8.8,"s2":9.2},{"x":31,"s1":8.5,"s2":9.5},{"x":32,"s1":8.8,"s2":9.5},{"x":33,"s1":9.1,"s2":9.5},{"x":34,"s1":9.1,"s2":11},{"x":35,"s1":8.7,"s2":10.5},{"x":36,"s1":7.1,"s2":9.8},{"x":37,"s1":7.3,"s2":7.7},{"x":38,"s1":7.6,"s2":8.1},
{"x":45,"s1":12.6,"s2":12.1},{"x":46,"s1":11.4,"s2":11.5},{"x":47,"s1":8.3,"s2":7.9},{"x":48,"s1":8.2,"s2":8.1},{"x":49,"s1":7.5,"s2":7.9},{"x":50,"s1":7.5,"s2":7.7},{"x":51,"s1":7.9,"s2":8.2},{"x":52,"s1":8.5,"s2":8.9},{"x":53,"s1":9.4,"s2":10.5},{"x":54,"s1":8.9,"s2":10.8},{"x":55,"s1":8.3,"s2":10.2},{"x":56,"s1":7.9,"s2":9.4},{"x":57,"s1":7.7,"s2":8.7},{"x":58,"s1":7.6,"s2":8.1},{"x":59,"s1":7.5,"s2":7.6},
{"x":66,"s1":9.4,"s2":7.3},{"x":67,"s1":9.1,"s2":7.1},{"x":68,"s1":8.9,"s2":7.6},{"x":69,"s1":10.6,"s2":8.1},{"x":70,"s1":11.6,"s2":9.5},{"x":71,"s1":12,"s2":10.5},{"x":72,"s1":11.6,"s2":11},{"x":73,"s1":11.4,"s2":11.4},{"x":74,"s1":12.4,"s2":11.8},{"x":75,"s1":14.7,"s2":11.1},{"x":76,"s1":16,"s2":10.6},{"x":77,"s1":16.6,"s2":10.1},{"x":78,"s1":13,"s2":9.5},{"x":79,"s1":10.5,"s2":8.8},{"x":80,"s1":7.7,"s2":8},
{"x":90,"s1":9.9,"s2":8.9},{"x":91,"s1":10.8,"s2":8.7},{"x":92,"s1":11.7,"s2":8.2},{"x":93,"s1":11.4,"s2":8.1},{"x":94,"s1":11.4,"s2":8.2},{"x":95,"s1":11.2,"s2":8.7},{"x":96,"s1":12.1,"s2":9.9},{"x":97,"s1":12.4,"s2":10.6},{"x":98,"s1":14.7,"s2":11.1},{"x":99,"s1":16,"s2":11.7},{"x":100,"s1":16.5,"s2":10.5},{"x":101,"s1":13,"s2":9.4},{"x":102,"s1":10.5,"s2":7.6},{"x":103,"s1":8.9,"s2":8.2},{"x":104,"s1":7.5,"s2":8.7},
{"x":111,"s1":8.8,"s2":8.3},{"x":112,"s1":8.8,"s2":8.3},{"x":113,"s1":8.9,"s2":8.5},{"x":114,"s1":9.5,"s2":8.9},{"x":115,"s1":10.2,"s2":9.1},{"x":116,"s1":10.6,"s2":9.1},{"x":117,"s1":10.8,"s2":9.2},{"x":118,"s1":9.8,"s2":9.4},{"x":119,"s1":9.5,"s2":9.4},{"x":120,"s1":9.4,"s2":8.9},{"x":121,"s1":8.9,"s2":8.7},{"x":122,"s1":8.7,"s2":8.5},{"x":123,"s1":8.3,"s2":8.3},{"x":124,"s1":8.1,"s2":8.1},{"x":125,"s1":7.9,"s2":7.9},
{"x":132,"s1":7,"s2":6.5},{"x":133,"s1":6.7,"s2":6.3},{"x":134,"s1":6.1,"s2":5.8},{"x":135,"s1":5.6,"s2":5.1},{"x":136,"s1":5.4,"s2":4.8},{"x":137,"s1":5.3,"s2":4.8},{"x":138,"s1":5.1,"s2":5},{"x":139,"s1":5,"s2":4.8},{"x":140,"s1":5,"s2":4.7},{"x":141,"s1":4.8,"s2":4.6},{"x":142,"s1":4.7,"s2":4.2},{"x":143,"s1":4.7,"s2":4.2},{"x":144,"s1":5,"s2":5},{"x":145,"s1":5.6,"s2":7.6},{"x":146,"s1":6.3,"s2":9.1},
{"x":153,"s1":13.8,"s2":13.9},{"x":154,"s1":13.8,"s2":13.9},{"x":155,"s1":10.5,"s2":11.4},{"x":156,"s1":7.5,"s2":9.6},{"x":157,"s1":7.1,"s2":7.4},{"x":158,"s1":6.5,"s2":7.1},{"x":159,"s1":6,"s2":6.5},{"x":160,"s1":5.8,"s2":6.3},{"x":161,"s1":6.2,"s2":6.5},{"x":162,"s1":6.6,"s2":6.8},{"x":163,"s1":7,"s2":7.1},{"x":164,"s1":7.3,"s2":8.2},{"x":165,"s1":7.8,"s2":10.5},{"x":166,"s1":8.4,"s2":12.2},{"x":167,"s1":8.9,"s2":11},
{"x":174,"s1":15.8,"s2":15.9},{"x":175,"s1":16.1,"s2":16.4},{"x":176,"s1":16.4,"s2":16.8},{"x":177,"s1":16.3,"s2":16.5},{"x":178,"s1":16.2,"s2":16.4},{"x":179,"s1":16,"s2":16.2},{"x":180,"s1":12.6,"s2":13.9},{"x":181,"s1":10.5,"s2":10.8},{"x":182,"s1":8.7,"s2":9.2},{"x":183,"s1":9.1,"s2":9.1},{"x":184,"s1":8.9,"s2":9},{"x":185,"s1":8.8,"s2":8.9},{"x":186,"s1":8.9,"s2":8.8},{"x":187,"s1":8.8,"s2":8.9},{"x":188,"s1":9.1,"s2":9},
{"x":195,"s1":8.9,"s2":8.7},{"x":196,"s1":8.7,"s2":8.5},{"x":197,"s1":8.3,"s2":8.2},{"x":198,"s1":9.2,"s2":10.2},{"x":199,"s1":9.9,"s2":10.8},{"x":200,"s1":10.2,"s2":12},{"x":201,"s1":10.5,"s2":12},{"x":202,"s1":11.4,"s2":12.4},{"x":203,"s1":9.9,"s2":11.1},{"x":204,"s1":9.1,"s2":9.9},{"x":205,"s1":7.5,"s2":8.2},{"x":206,"s1":7.5,"s2":7.5},{"x":207,"s1":7.5,"s2":7.5},{"x":208,"s1":7.6,"s2":7.6},{"x":209,"s1":7.6,"s2":7.6}],
"R4":[{"x":3,"s1":9.4,"s2":8.1},{"x":4,"s1":10.7,"s2":10},{"x":5,"s1":13.3,"s2":12.3},{"x":6,"s1":14.2,"s2":14.4},{"x":7,"s1":14.8,"s2":14.2},{"x":8,"s1":14.6,"s2":13.6},{"x":9,"s1":12.8,"s2":11.3},{"x":10,"s1":11.9,"s2":10.3},{"x":11,"s1":8.8,"s2":10.1},{"x":12,"s1":9.3,"s2":11.6},{"x":13,"s1":9.9,"s2":11.7},{"x":14,"s1":13.3,"s2":14.4},{"x":15,"s1":11.6,"s2":12.8},{"x":16,"s1":10.1,"s2":11},{"x":17,"s1":7.8,"s2":7.5},
{"x":24,"s1":9,"s2":8.8},{"x":25,"s1":9.3,"s2":9.2},{"x":26,"s1":8.7,"s2":8.4},{"x":27,"s1":8.6,"s2":8.2},{"x":28,"s1":8.4,"s2":8.1},{"x":29,"s1":8.7,"s2":8.1},{"x":30,"s1":8.8,"s2":8.2},{"x":31,"s1":8.7,"s2":8.4},{"x":32,"s1":8.6,"s2":8.6},{"x":33,"s1":8.6,"s2":8.7},{"x":34,"s1":8.1,"s2":8.4},{"x":35,"s1":7.2,"s2":7.5},{"x":36,"s1":6.5,"s2":7},{"x":37,"s1":6.8,"s2":7.2},{"x":38,"s1":7.1,"s2":8.1},
{"x":45,"s1":14.4,"s2":14.5},{"x":46,"s1":14.6,"s2":15.1},{"x":47,"s1":15,"s2":15.8},{"x":48,"s1":13.3,"s2":14.2},{"x":49,"s1":12.3,"s2":11},{"x":50,"s1":8.2,"s2":11.5},{"x":51,"s1":8.4,"s2":11.7},{"x":52,"s1":8.6,"s2":13},{"x":53,"s1":11,"s2":13.8},{"x":54,"s1":10.1,"s2":12.9},{"x":55,"s1":11,"s2":10.6},{"x":56,"s1":8.4,"s2":8.4},{"x":57,"s1":8.1,"s2":8.2},{"x":58,"s1":7.8,"s2":7.5},{"x":59,"s1":7.7,"s2":7.2},
{"x":66,"s1":12.5,"s2":12.9},{"x":67,"s1":12.1,"s2":12.8},{"x":68,"s1":11.9,"s2":13.6},{"x":69,"s1":10.4,"s2":14},{"x":70,"s1":10.3,"s2":14.2},{"x":71,"s1":9.7,"s2":12.5},{"x":72,"s1":10.4,"s2":11},{"x":73,"s1":10.9,"s2":10.5},{"x":74,"s1":11.9,"s2":12},{"x":75,"s1":14.5,"s2":14.8},{"x":76,"s1":14.8,"s2":15.1},{"x":77,"s1":15,"s2":15.2},{"x":78,"s1":13.4,"s2":13.9},{"x":79,"s1":11.3,"s2":12.1},{"x":80,"s1":9.9,"s2":10.1},
{"x":90,"s1":11.6,"s2":11.9},{"x":91,"s1":10.6,"s2":11.3},{"x":92,"s1":10.3,"s2":10.6},{"x":93,"s1":9.6,"s2":9},{"x":94,"s1":10.3,"s2":8.7},{"x":95,"s1":10.7,"s2":8.7},{"x":96,"s1":12.2,"s2":9.9},{"x":97,"s1":13.3,"s2":10.6},{"x":98,"s1":14.2,"s2":11.3},{"x":99,"s1":14.6,"s2":12.5},{"x":100,"s1":13.3,"s2":12.8},{"x":101,"s1":11.9,"s2":11.6},{"x":102,"s1":8.8,"s2":7.5},{"x":103,"s1":8.1,"s2":7.8},{"x":104,"s1":7.8,"s2":7.8},
{"x":111,"s1":8.2,"s2":8.1},{"x":112,"s1":8.4,"s2":8.1},{"x":113,"s1":9,"s2":8.6},{"x":114,"s1":10.1,"s2":9.6},{"x":115,"s1":11.6,"s2":10.1},{"x":116,"s1":11.7,"s2":9.7},{"x":117,"s1":11.7,"s2":9.3},{"x":118,"s1":9.9,"s2":8.6},{"x":119,"s1":9.3,"s2":8.4},{"x":120,"s1":7.2,"s2":7.5},{"x":121,"s1":7.1,"s2":7.2},{"x":122,"s1":7.1,"s2":7},{"x":123,"s1":7.4,"s2":7},{"x":124,"s1":7.2,"s2":7.1},{"x":125,"s1":6.8,"s2":6.8},
{"x":132,"s1":6.7,"s2":6.4},{"x":133,"s1":6.5,"s2":6.1},{"x":134,"s1":6.1,"s2":5.8},{"x":135,"s1":5.5,"s2":5.3},{"x":136,"s1":4.9,"s2":4.9},{"x":137,"s1":5.2,"s2":5.3},{"x":138,"s1":4.9,"s2":5.5},{"x":139,"s1":4.8,"s2":5.5},{"x":140,"s1":4.9,"s2":5.2},{"x":141,"s1":4.6,"s2":4.9},{"x":142,"s1":4.8,"s2":4.8},{"x":143,"s1":4.9,"s2":4.6},{"x":144,"s1":6.8,"s2":6.4},{"x":145,"s1":10,"s2":10.1},{"x":146,"s1":11.8,"s2":12.4},
{"x":153,"s1":11.3,"s2":10},{"x":154,"s1":11.7,"s2":11},{"x":155,"s1":10.7,"s2":9.7},{"x":156,"s1":9.3,"s2":8.6},{"x":157,"s1":7.2,"s2":7.2},{"x":158,"s1":7,"s2":6.8},{"x":159,"s1":6.7,"s2":6.7},{"x":160,"s1":6.5,"s2":6.5},{"x":161,"s1":6.4,"s2":6.3},{"x":162,"s1":6.1,"s2":6.1},{"x":163,"s1":5.9,"s2":5.8},{"x":164,"s1":5.8,"s2":5.5},{"x":165,"s1":5.5,"s2":5.2},{"x":166,"s1":5.2,"s2":4.9},{"x":167,"s1":5.5,"s2":5.3},
{"x":174,"s1":13.6,"s2":13.8},{"x":175,"s1":14,"s2":14.2},{"x":176,"s1":14.6,"s2":14.8},{"x":177,"s1":15.2,"s2":15.7},{"x":178,"s1":15.1,"s2":16.2},{"x":179,"s1":14.2,"s2":15.9},{"x":180,"s1":13.3,"s2":15.1},{"x":181,"s1":12.6,"s2":14.2},{"x":182,"s1":11.6,"s2":11.6},{"x":183,"s1":9.9,"s2":9.3},{"x":184,"s1":8.2,"s2":8.6},{"x":185,"s1":9,"s2":8.4},{"x":186,"s1":10.1,"s2":10.3},{"x":187,"s1":11.9,"s2":11.1},{"x":188,"s1":11.3,"s2":11},
{"x":195,"s1":8.4,"s2":8.1},{"x":196,"s1":8.4,"s2":7.8},{"x":197,"s1":7.5,"s2":7.2},{"x":198,"s1":7.8,"s2":6.8},{"x":199,"s1":8,"s2":7},{"x":200,"s1":8.1,"s2":7.4},{"x":201,"s1":9,"s2":8.7},{"x":202,"s1":10.1,"s2":9.6},{"x":203,"s1":11,"s2":11.5},{"x":204,"s1":10,"s2":10.4},{"x":205,"s1":9.7,"s2":9.3},{"x":206,"s1":9.3,"s2":8.8},{"x":207,"s1":8.8,"s2":8.1},{"x":208,"s1":7.8,"s2":7.2},{"x":209,"s1":7.2,"s2":7.1}]
},
"columns":2,
"spacing":{"row":29,"column":160},
"bounds":"flush",
"concat":[
{"width":492,"height":69,"data":{"values":[{}]},"layer":[
 {"mark":{"type":"text","fontSize":16,"fontWeight":"bold","baseline":"middle","align":"center","color":"#262626"},
  "encoding":{"x":{"datum":102.5,"type":"quantitative","scale":{"domain":[1,212]},"axis":{"orient":"bottom","offset":-33,"values":[9,32,52.7,74,97,119,140.5,160.4,181.7,202.3],"labelExpr":"['L18F','D80A','D215G','242/4del','R246I','K417T','Y453F','E484K','A701V','D614G'][indexof([9,32,52.7,74,97,119,140.5,160.4,181.7,202.3], datum.value)]","labels":true,"domain":false,"grid":false,"ticks":false,"tickSize":0,"labelPadding":10.5,"labelFontSize":11.5,"labelColor":"#262626","labelFlush":false,"labelOverlap":false,"labelFontWeight":{"condition":{"test":"datum.value == 97","value":"bold"},"value":"normal"},"title":null}},
   "y":{"datum":0.73,"type":"quantitative","scale":{"domain":[0,1]},"axis":null},
   "text":{"value":"Spike"}}},
 {"mark":{"type":"rule","color":"#595959","strokeWidth":1.3},
  "encoding":{"x":{"datum":4.4,"type":"quantitative","scale":{"domain":[1,212]}},"x2":{"datum":210.8},"y":{"datum":0.478,"type":"quantitative","scale":{"domain":[0,1]}}}}]},
{"width":492,"height":69,"data":{"values":[{}]},"layer":[
 {"mark":{"type":"text","fontSize":16,"fontWeight":"bold","baseline":"middle","align":"center","color":"#262626"},
  "encoding":{"x":{"datum":102.5,"type":"quantitative","scale":{"domain":[1,212]},"axis":{"orient":"bottom","offset":-33,"values":[9,32,52.7,74,97,119,140.5,160.4,181.7,202.3],"labelExpr":"['L18F','D80A','D215G','242/4del','R246I','K417T','Y453F','E484K','A701V','D614G'][indexof([9,32,52.7,74,97,119,140.5,160.4,181.7,202.3], datum.value)]","labels":true,"domain":false,"grid":false,"ticks":false,"tickSize":0,"labelPadding":10.5,"labelFontSize":11.5,"labelColor":"#262626","labelFlush":false,"labelOverlap":false,"labelFontWeight":{"condition":{"test":"datum.value == 97","value":"bold"},"value":"normal"},"title":null}},
   "y":{"datum":0.73,"type":"quantitative","scale":{"domain":[0,1]},"axis":null},
   "text":{"value":"Spike"}}},
 {"mark":{"type":"rule","color":"#595959","strokeWidth":1.3},
  "encoding":{"x":{"datum":4.4,"type":"quantitative","scale":{"domain":[1,212]}},"x2":{"datum":210.8},"y":{"datum":0.478,"type":"quantitative","scale":{"domain":[0,1]}}}}]},
{"width":492,"height":114,"layer":[
 {"data":{"name":"L1"},"transform":[{"fold":["s1","s2"],"as":["series","value"]}],"mark":{"type":"circle","size":12,"opacity":1},
  "encoding":{"x":{"field":"x","type":"quantitative","scale":{"domain":[1,212]},"axis":{"values":[1,50,100,150,200],"title":null}},"y":{"field":"value","type":"quantitative","scale":{"domain":[0,20]},"axis":{"values":[0,5,10,15,20],"title":null}},"color":{"field":"series","type":"nominal","scale":{"domain":["s1","s2"],"range":["#4472C4","#ED7D31"]},"legend":null},"order":{"field":"series"}}},
 {"data":{"values":[{}]},"mark":{"type":"text","align":"left","baseline":"alphabetic","dx":0,"dy":-2,"fontSize":19.5,"color":"#262626"},"encoding":{"x":{"datum":1,"type":"quantitative","scale":{"domain":[1,212]}},"y":{"datum":20,"type":"quantitative","scale":{"domain":[0,20]}},"text":{"value":"DRB1*04:04"}}}]},
{"width":492,"height":114,"layer":[
 {"data":{"name":"R1"},"transform":[{"fold":["s1","s2"],"as":["series","value"]}],"mark":{"type":"circle","size":12,"opacity":1},
  "encoding":{"x":{"field":"x","type":"quantitative","scale":{"domain":[1,212]},"axis":{"values":[1,50,100,150,200],"title":null}},"y":{"field":"value","type":"quantitative","scale":{"domain":[0,20]},"axis":{"values":[0,5,10,15,20],"title":null}},"color":{"field":"series","type":"nominal","scale":{"domain":["s1","s2"],"range":["#4472C4","#ED7D31"]},"legend":null},"order":{"field":"series"}}},
 {"data":{"values":[{}]},"mark":{"type":"text","align":"left","baseline":"alphabetic","dx":1,"dy":-2,"fontSize":19.5,"color":"#262626"},"encoding":{"x":{"datum":1,"type":"quantitative","scale":{"domain":[1,212]}},"y":{"datum":20,"type":"quantitative","scale":{"domain":[0,20]}},"text":{"value":"DRB1*11:01"}}}]},
{"width":492,"height":114,"layer":[
 {"data":{"name":"L2"},"transform":[{"fold":["s1","s2"],"as":["series","value"]}],"mark":{"type":"circle","size":12,"opacity":1},
  "encoding":{"x":{"field":"x","type":"quantitative","scale":{"domain":[1,212]},"axis":{"values":[1,50,100,150,200],"title":null}},"y":{"field":"value","type":"quantitative","scale":{"domain":[0,20]},"axis":{"values":[0,5,10,15,20],"title":"MEDi MA","titleFontSize":14,"titleFontWeight":"normal","titleColor":"#262626","titleX":-52,"titleY":97,"titleBaseline":"middle"}},"color":{"field":"series","type":"nominal","scale":{"domain":["s1","s2"],"range":["#4472C4","#ED7D31"]},"legend":null},"order":{"field":"series"}}},
 {"data":{"values":[{}]},"mark":{"type":"text","align":"left","baseline":"alphabetic","dx":0,"dy":-2,"fontSize":19.5,"color":"#262626"},"encoding":{"x":{"datum":1,"type":"quantitative","scale":{"domain":[1,212]}},"y":{"datum":20,"type":"quantitative","scale":{"domain":[0,20]}},"text":{"value":"DRB1*04:01"}}}]},
{"width":492,"height":114,"layer":[
 {"data":{"name":"R2"},"transform":[{"fold":["s1","s2"],"as":["series","value"]}],"mark":{"type":"circle","size":12,"opacity":1},
  "encoding":{"x":{"field":"x","type":"quantitative","scale":{"domain":[1,212]},"axis":{"values":[1,50,100,150,200],"title":null}},"y":{"field":"value","type":"quantitative","scale":{"domain":[0,20]},"axis":{"values":[0,5,10,15,20],"title":"MEDi MA","titleFontSize":14,"titleFontWeight":"normal","titleColor":"#262626","titleX":-39,"titleY":97,"titleBaseline":"middle"}},"color":{"field":"series","type":"nominal","scale":{"domain":["s1","s2"],"range":["#4472C4","#ED7D31"]},"legend":null},"order":{"field":"series"}}},
 {"data":{"values":[{}]},"mark":{"type":"text","align":"left","baseline":"alphabetic","dx":1,"dy":-2,"fontSize":19.5,"color":"#262626"},"encoding":{"x":{"datum":1,"type":"quantitative","scale":{"domain":[1,212]}},"y":{"datum":20,"type":"quantitative","scale":{"domain":[0,20]}},"text":{"value":"DRB1*14:05"}}}]},
{"width":492,"height":114,"layer":[
 {"data":{"name":"L3"},"transform":[{"fold":["s1","s2"],"as":["series","value"]}],"mark":{"type":"circle","size":12,"opacity":1},
  "encoding":{"x":{"field":"x","type":"quantitative","scale":{"domain":[1,212]},"axis":{"values":[1,50,100,150,200],"title":null}},"y":{"field":"value","type":"quantitative","scale":{"domain":[0,20]},"axis":{"values":[0,5,10,15,20],"title":null}},"color":{"field":"series","type":"nominal","scale":{"domain":["s1","s2"],"range":["#4472C4","#ED7D31"]},"legend":null},"order":{"field":"series"}}},
 {"data":{"values":[{}]},"mark":{"type":"text","align":"left","baseline":"alphabetic","dx":0,"dy":-2,"fontSize":19.5,"color":"#262626"},"encoding":{"x":{"datum":1,"type":"quantitative","scale":{"domain":[1,212]}},"y":{"datum":20,"type":"quantitative","scale":{"domain":[0,20]}},"text":{"value":"DRB1*08:03"}}},
 {"data":{"values":[{}]},"mark":{"type":"rect","filled":false,"stroke":"#4472C4","strokeWidth":2.3},"encoding":{"x":{"datum":86.9,"type":"quantitative","scale":{"domain":[1,212]}},"x2":{"datum":108.3},"y":{"datum":47.7,"type":"quantitative","scale":{"domain":[0,20]}},"y2":{"datum":-1.05}}}]},
{"width":492,"height":114,"layer":[
 {"data":{"name":"R3"},"transform":[{"fold":["s1","s2"],"as":["series","value"]}],"mark":{"type":"circle","size":12,"opacity":1},
  "encoding":{"x":{"field":"x","type":"quantitative","scale":{"domain":[1,212]},"axis":{"values":[1,50,100,150,200],"title":null}},"y":{"field":"value","type":"quantitative","scale":{"domain":[0,20]},"axis":{"values":[0,5,10,15,20],"title":null}},"color":{"field":"series","type":"nominal","scale":{"domain":["s1","s2"],"range":["#4472C4","#ED7D31"]},"legend":null},"order":{"field":"series"}}},
 {"data":{"values":[{}]},"mark":{"type":"text","align":"left","baseline":"alphabetic","dx":1,"dy":-2,"fontSize":19.5,"color":"#262626"},"encoding":{"x":{"datum":1,"type":"quantitative","scale":{"domain":[1,212]}},"y":{"datum":20,"type":"quantitative","scale":{"domain":[0,20]}},"text":{"value":"DRB1*15:01"}}},
 {"data":{"values":[{}]},"mark":{"type":"rect","filled":false,"stroke":"#4472C4","strokeWidth":2.3},"encoding":{"x":{"datum":86,"type":"quantitative","scale":{"domain":[1,212]}},"x2":{"datum":107.4},"y":{"datum":72.3,"type":"quantitative","scale":{"domain":[0,20]}},"y2":{"datum":-1.05}}},
 {"data":{"values":[{}]},"mark":{"type":"rect","filled":false,"stroke":"#4472C4","strokeWidth":2.3},"encoding":{"x":{"datum":61.2,"type":"quantitative","scale":{"domain":[1,212]}},"x2":{"datum":82.6},"y":{"datum":21.9,"type":"quantitative","scale":{"domain":[0,20]}},"y2":{"datum":-1.2}}}]},
{"width":492,"height":114,"layer":[
 {"data":{"name":"L4"},"transform":[{"fold":["s1","s2"],"as":["series","value"]}],"mark":{"type":"circle","size":12,"opacity":1},
  "encoding":{"x":{"field":"x","type":"quantitative","scale":{"domain":[1,212]},"axis":{"values":[1,50,100,150,200],"title":null}},"y":{"field":"value","type":"quantitative","scale":{"domain":[0,20]},"axis":{"values":[0,5,10,15,20],"title":null}},"color":{"field":"series","type":"nominal","scale":{"domain":["s1","s2"],"range":["#4472C4","#ED7D31"]},"legend":null},"order":{"field":"series"}}},
 {"data":{"values":[{}]},"mark":{"type":"text","align":"left","baseline":"alphabetic","dx":0,"dy":-2,"fontSize":19.5,"color":"#262626"},"encoding":{"x":{"datum":1,"type":"quantitative","scale":{"domain":[1,212]}},"y":{"datum":20,"type":"quantitative","scale":{"domain":[0,20]}},"text":{"value":"DPA1*02:02 DPB1*05:01"}}}]},
{"width":492,"height":114,"layer":[
 {"data":{"name":"R4"},"transform":[{"fold":["s1","s2"],"as":["series","value"]}],"mark":{"type":"circle","size":12,"opacity":1},
  "encoding":{"x":{"field":"x","type":"quantitative","scale":{"domain":[1,212]},"axis":{"values":[1,50,100,150,200],"title":null}},"y":{"field":"value","type":"quantitative","scale":{"domain":[0,20]},"axis":{"values":[0,5,10,15,20],"title":null}},"color":{"field":"series","type":"nominal","scale":{"domain":["s1","s2"],"range":["#4472C4","#ED7D31"]},"legend":null},"order":{"field":"series"}}},
 {"data":{"values":[{}]},"mark":{"type":"text","align":"left","baseline":"alphabetic","dx":1,"dy":-2,"fontSize":19.5,"color":"#262626"},"encoding":{"x":{"datum":1,"type":"quantitative","scale":{"domain":[1,212]}},"y":{"datum":20,"type":"quantitative","scale":{"domain":[0,20]}},"text":{"value":"DRB1*07:01"}}}]}
]
}
